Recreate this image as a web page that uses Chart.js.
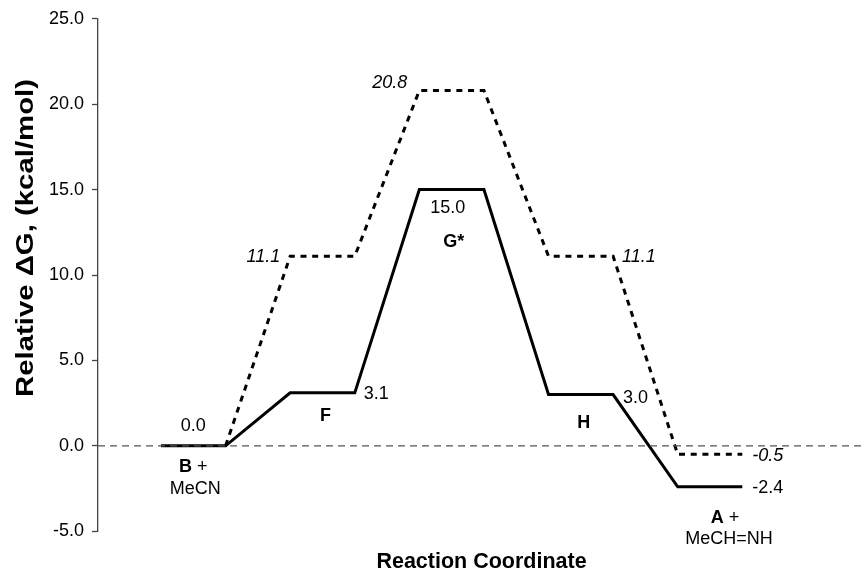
<!DOCTYPE html>
<html>
<head>
<meta charset="utf-8">
<script src="https://cdn.jsdelivr.net/npm/chart.js@4/dist/chart.umd.min.js"></script>
<style>
  html, body { margin: 0; padding: 0; background: #fff; }
  #wrap { width: 865px; height: 575px; }
</style>
</head>
<body>
<div id="wrap"><canvas id="chart"></canvas></div>
<script>
// reaction coordinate positions (ends of each plateau)
const stageX = [0, 1, 2, 3, 4, 5, 6, 7, 8, 9];
// solid path: B+MeCN -> F -> G* -> H -> A+MeCH=NH
const solidPath = [0.0, 0.0, 3.1, 3.1, 15.0, 15.0, 3.0, 3.0, -2.4, -2.4];
// dotted path (starts at the end of the first plateau)
const dottedPath = [null, 0.0, 11.1, 11.1, 20.8, 20.8, 11.1, 11.1, -0.5, -0.5];
const yTicks = [-5, 0, 5, 10, 15, 20, 25];
const xMin = -0.975, xMax = 10.9;

const FONT = '"Liberation Sans", Arial, Helvetica, sans-serif';

const toPoints = (ys) => stageX.map((x, i) => ({ x: x, y: ys[i] }));

// text around the levels, anchored to data coordinates
const notes = [
  { parts: [['0.0', '']], x: 0.5, y: 0, dx: 0, dy: -20, align: 'center' },
  { parts: [['B', 'bold'], [' +', '']], x: 0.5, y: 0, dx: 0, dy: 21, align: 'center' },
  { parts: [['MeCN', '']], x: 0.5, y: 0, dx: 2, dy: 43, align: 'center' },
  { parts: [['F', 'bold']], x: 2.5, y: 3.1, dx: 3, dy: 23, align: 'center' },
  { parts: [['3.1', '']], x: 3, y: 3.1, dx: 9, dy: 1, align: 'left' },
  { parts: [['11.1', 'italic']], x: 2, y: 11.1, dx: -10, dy: 1, align: 'right' },
  { parts: [['20.8', 'italic']], x: 4, y: 20.8, dx: -12, dy: -8, align: 'right' },
  { parts: [['15.0', '']], x: 4.5, y: 15.0, dx: -4, dy: 18, align: 'center' },
  { parts: [['G*', 'bold']], x: 4.5, y: 15.0, dx: 2, dy: 52, align: 'center' },
  { parts: [['11.1', 'italic']], x: 7, y: 11.1, dx: 9, dy: 1, align: 'left' },
  { parts: [['H', 'bold']], x: 6.5, y: 3.0, dx: 3, dy: 28, align: 'center' },
  { parts: [['3.0', '']], x: 7, y: 3.0, dx: 10, dy: 3, align: 'left' },
  { parts: [['-0.5', 'italic']], x: 9, y: -0.5, dx: 10, dy: 2, align: 'left' },
  { parts: [['-2.4', '']], x: 9, y: -2.4, dx: 10, dy: 1, align: 'left' },
  { parts: [['A', 'bold'], [' +', '']], x: 8.5, y: -2.4, dx: 15, dy: 31, align: 'center' },
  { parts: [['MeCH=NH', '']], x: 8.5, y: -2.4, dx: 19, dy: 52, align: 'center' }
];

const notesPlugin = {
  id: 'notes',
  afterDatasetsDraw(chart) {
    const ctx = chart.ctx;
    const xs = chart.scales.x, ys = chart.scales.y;
    ctx.save();
    ctx.fillStyle = '#000';
    ctx.textBaseline = 'middle';
    notes.forEach(n => {
      const fonts = n.parts.map(p => p[1] + ' 18px ' + FONT);
      let total = 0;
      const widths = n.parts.map((p, i) => {
        ctx.font = fonts[i];
        const w = ctx.measureText(p[0]).width;
        total += w;
        return w;
      });
      let px = xs.getPixelForValue(n.x) + n.dx;
      const py = ys.getPixelForValue(n.y) + n.dy;
      if (n.align === 'center') px -= total / 2;
      else if (n.align === 'right') px -= total;
      ctx.textAlign = 'left';
      n.parts.forEach((p, i) => {
        ctx.font = fonts[i];
        ctx.fillText(p[0], px, py);
        px += widths[i];
      });
    });

    // y axis title, drawn by hand so it can sit off-centre like the original
    const area = chart.chartArea;
    ctx.translate(27, (area.top + area.bottom) / 2 - 37);
    ctx.rotate(-Math.PI / 2);
    ctx.font = 'bold 23px ' + FONT;
    ctx.textAlign = 'center';
    const title = 'Relative \u0394G, (kcal/mol)';
    const stretch = 318 / ctx.measureText(title).width;
    ctx.scale(stretch, 1);
    ctx.fillText(title, 0, 0);
    ctx.restore();
  }
};

new Chart(document.getElementById('chart'), {
  type: 'line',
  data: {
    datasets: [
      {
        label: 'zero',
        data: [{ x: xMin, y: 0 }, { x: xMax, y: 0 }],
        borderColor: '#555',
        borderWidth: 1.3,
        borderDash: [7, 5],
        pointRadius: 0
      },
      {
        label: 'solid',
        data: toPoints(solidPath),
        borderColor: '#000',
        borderWidth: 3,
        pointRadius: 0,
        tension: 0
      },
      {
        label: 'dotted',
        data: toPoints(dottedPath),
        borderColor: '#000',
        borderWidth: 3,
        borderDash: [6, 5.7],
        pointRadius: 0,
        tension: 0,
        spanGaps: false
      }
    ]
  },
  options: {
    responsive: true,
    maintainAspectRatio: false,
    animation: false,
    layout: { padding: { left: 41, right: 0, top: 14, bottom: 0 } },
    plugins: {
      legend: { display: false },
      tooltip: { enabled: false }
    },
    scales: {
      x: {
        type: 'linear',
        min: xMin,
        max: xMax,
        grid: { display: false },
        border: { display: false },
        ticks: { display: false },
        title: {
          display: true,
          text: 'Reaction Coordinate',
          color: '#000',
          font: { family: FONT, size: 21.5, weight: 'bold' },
          padding: { top: 10, bottom: 0 }
        }
      },
      y: {
        min: -5,
        max: 25,
        afterBuildTicks: (axis) => { axis.ticks = yTicks.map(v => ({ value: v })); },
        grid: {
          drawOnChartArea: false,
          drawTicks: true,
          tickLength: 6,
          tickColor: '#444',
          tickWidth: 1.3
        },
        border: { display: true, color: '#444', width: 1.3 },
        ticks: {
          color: '#000',
          padding: 8,
          font: { family: FONT, size: 18 },
          callback: (v) => v.toFixed(1)
        }
      }
    }
  },
  plugins: [notesPlugin]
});
</script>
</body>
</html>
